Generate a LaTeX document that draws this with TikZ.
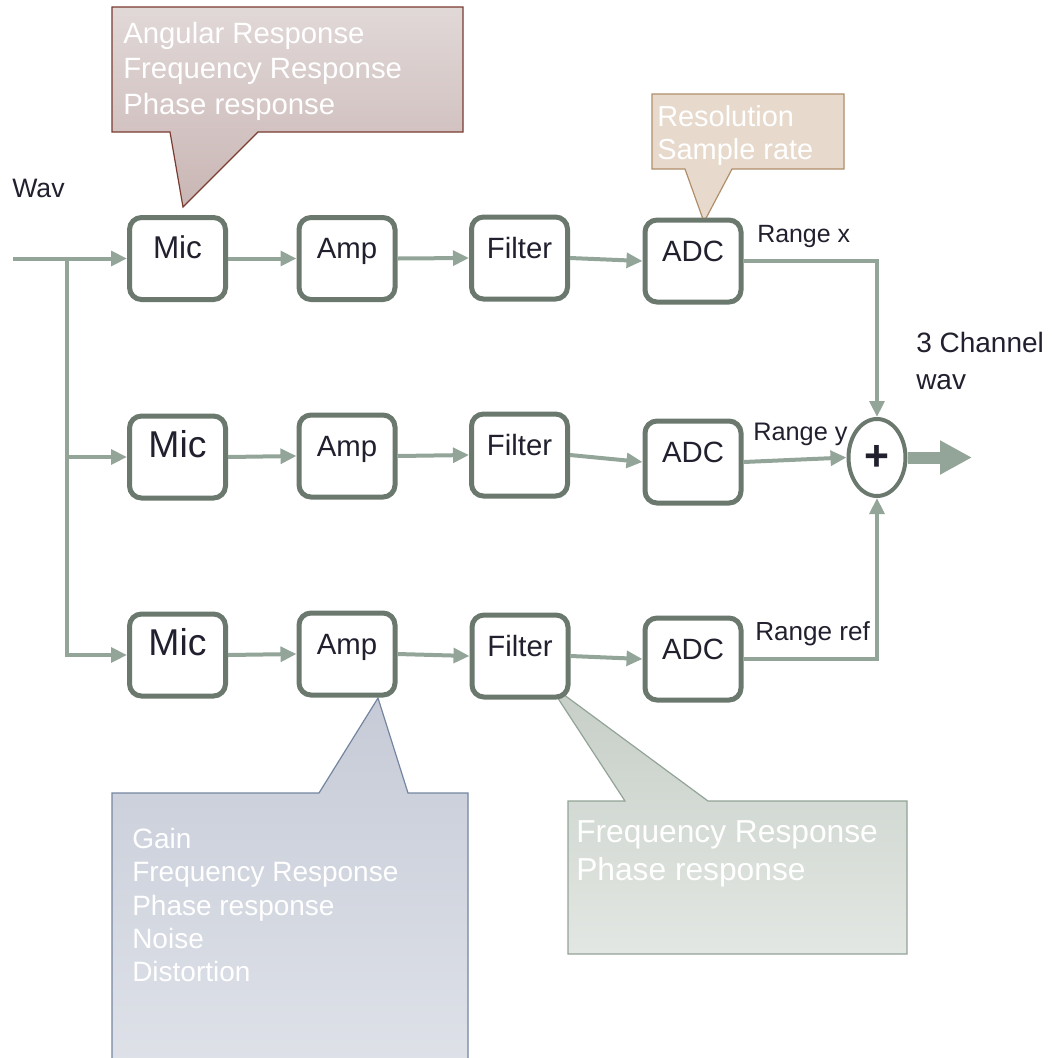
\documentclass[tikz,border=0pt]{standalone}
\usepackage{fontspec}
\setmainfont{Liberation Sans}
\usetikzlibrary{arrows.meta,shapes.geometric}

\definecolor{boxline}{RGB}{107,120,110}
\definecolor{conn}{RGB}{147,165,152}
\definecolor{labeltext}{RGB}{32,32,46}
\definecolor{micfillA}{RGB}{225,216,216}
\definecolor{micfillB}{RGB}{201,182,180}
\definecolor{micedge}{RGB}{122,59,48}
\definecolor{adcfill}{RGB}{231,218,205}
\definecolor{adcedge}{RGB}{176,142,106}
\definecolor{ampfillA}{RGB}{198,203,215}
\definecolor{ampfillB}{RGB}{222,225,232}
\definecolor{ampedge}{RGB}{116,133,160}
\definecolor{filtfillA}{RGB}{198,206,199}
\definecolor{filtfillB}{RGB}{227,231,227}
\definecolor{filtedge}{RGB}{146,163,151}

\begin{document}
\begin{tikzpicture}[x=0.75pt,y=-0.75pt,
  >={Triangle[length=12pt,width=11pt]},
  block/.style={draw=boxline,line width=3.75pt,rounded corners=9pt,fill=white,
    minimum width=72pt,minimum height=61.5pt,inner sep=0pt,text=labeltext,
    text height=7pt,text depth=7pt,font=\fontsize{22}{26}\selectfont},
  link/.style={draw=conn,line width=3pt,->},
  note/.style={line width=0.9pt},
  notetext/.style={anchor=north west,align=left,inner sep=0pt,text=white},
  lbl/.style={inner sep=0pt,text=labeltext,font=\fontsize{20}{24}\selectfont}]
\clip (0,0) rectangle (1051,1058);

% callouts
\path[note,draw=micedge,top color=micfillA,bottom color=micfillB]
  (112,7) -- (463,7) -- (463,132) -- (258,132) -- (183,207) -- (170,132) -- (112,132) -- cycle;
\node[notetext,font=\fontsize{22}{26.5}\selectfont] (micnote) at (123,22)
  {Angular Response\\Frequency Response\\Phase response};
\path[note,draw=adcedge,fill=adcfill]
  (652,94) -- (844,94) -- (844,169) -- (732,169) -- (704,222) -- (685,169) -- (652,169) -- cycle;
\node[notetext,font=\fontsize{21.7}{25}\selectfont] (adcnote) at (657,105)
  {Resolution\\Sample rate};
\path[note,draw=ampedge,top color=ampfillA,bottom color=ampfillB]
  (112,793) -- (319,793) -- (378,698) -- (408,793) -- (468,793) -- (468,1064) -- (112,1064) -- cycle;
\node[notetext,font=\fontsize{21}{25}\selectfont] (ampnote) at (132,828)
  {Gain\\Frequency Response\\Phase response\\Noise\\Distortion};
\path[note,draw=filtedge,top color=filtfillA,bottom color=filtfillB]
  (568,801) -- (625,801) -- (548,683) -- (708,801) -- (907,801) -- (907,954) -- (568,954) -- cycle;
\node[notetext,font=\fontsize{23.8}{28.5}\selectfont] (filternote) at (576,820)
  {Frequency Response\\Phase response};

% blocks
\node[block,font=\fontsize{23.6}{28}\selectfont] (mic1) at (177.5,258.5) {Mic};
\node[block] (amp1) at (347,258.5) {Amp};
\node[block] (filter1) at (519.5,258) {Filter};
\node[block] (adc1) at (693,261) {ADC};
\node[block,font=\fontsize{28}{32}\selectfont] (mic2) at (177.5,457) {Mic};
\node[block] (amp2) at (347,456) {Amp};
\node[block] (filter2) at (519.5,455) {Filter};
\node[block] (adc2) at (693,462) {ADC};
\node[block,font=\fontsize{28}{32}\selectfont] (mic3) at (177.5,655) {Mic};
\node[block] (amp3) at (347,654) {Amp};
\node[block] (filter3) at (520,656) {Filter};
\node[block] (adc3) at (693,659) {ADC};
\node[ellipse,draw=boxline,line width=3pt,fill=white,minimum width=42.75pt,
  minimum height=57.75pt,inner sep=0pt,text=labeltext,
  font=\fontsize{32}{36}\selectfont\bfseries] (sum) at (877,457.5) {+};

% input split
\coordinate (wavin) at (13,258.5);
\coordinate (split) at (67,258.5);
\coordinate (out) at (972,457.5);
\draw[link] (wavin) -- (mic1.west);
\draw[link] (split) |- (mic3.west);
\draw[link] (split |- mic2.west) -- (mic2.west);

% chains
\draw[link] (mic1.east) -- (amp1.west);
\draw[link] (amp1.east) -- (filter1.west);
\draw[link] (filter1.east) -- (adc1.west);
\draw[link] (mic2.east) -- (amp2.west);
\draw[link] (amp2.east) -- (filter2.west);
\draw[link] (filter2.east) -- (adc2.west);
\draw[link] (mic3.east) -- (amp3.west);
\draw[link] (amp3.east) -- (filter3.west);
\draw[link] (filter3.east) -- (adc3.west);

% merge
\draw[link] (adc1.east) -| (sum.north);
\draw[link] (adc2.east) -- (sum.west);
\draw[link] (adc3.east) -| (sum.south);
\draw[draw=conn,line width=9pt,-{Triangle[length=24pt,width=24pt]}] (sum.east) -- (out);

% labels
\node[lbl,anchor=base west] (wav) at (12,197) {Wav};
\node[lbl,anchor=base west,font=\fontsize{18.7}{22}\selectfont] (rangex) at (757,242) {Range x};
\node[lbl,anchor=base west,font=\fontsize{19}{22}\selectfont] (rangey) at (753,440) {Range y};
\node[lbl,anchor=base west,font=\fontsize{19.6}{22}\selectfont] (rangeref) at (755,640) {Range ref};
\node[lbl,anchor=north west,align=left,font=\fontsize{21}{28}\selectfont] (chan) at (916,332) {3 Channel\\wav};
\end{tikzpicture}
\end{document}
